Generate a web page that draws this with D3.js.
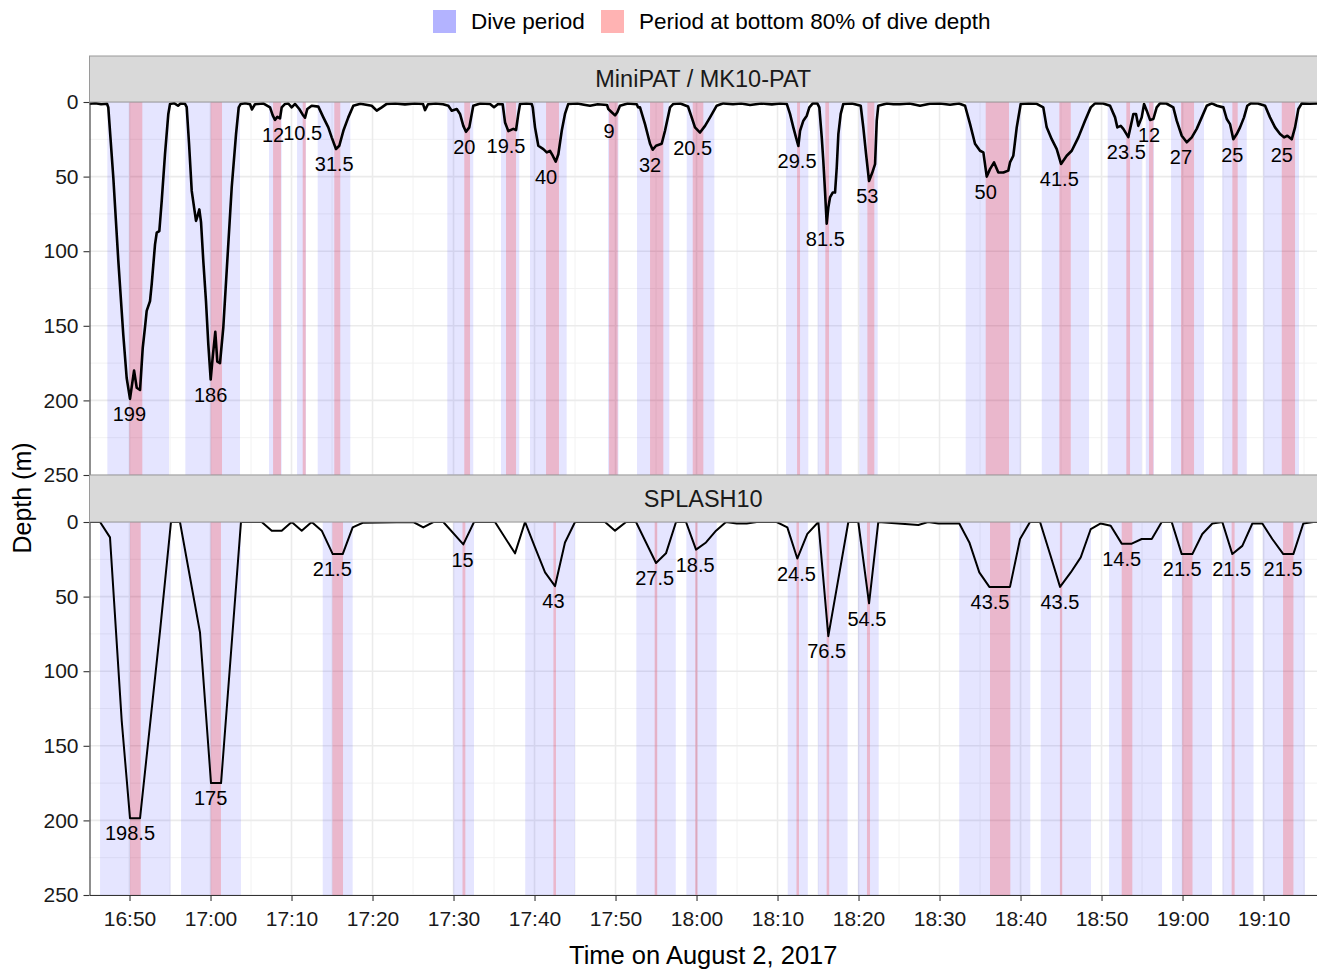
<!DOCTYPE html>
<html><head><meta charset="utf-8">
<script src="https://cdn.jsdelivr.net/npm/d3@7"></script>
<style>
body{margin:0;background:#fff;}
text{font-family:"Liberation Sans",Arial,Helvetica,sans-serif;}
</style>
</head><body>
<svg id="chart" width="1317" height="971"></svg>
<script>
// Times are minutes after 16:00 on August 2, 2017; depths in metres.
const panelNames = ["MiniPAT / MK10-PAT", "SPLASH10"];
const legendLabels = ["Dive period", "Period at bottom 80% of dive depth"];
const depthTicks = [0, 50, 100, 150, 200, 250];

const miniPatSeries = [
[45.06,1.2],[45.8,0.8],[46.5,1.5],[47.22,1.2],[47.38,3.6],[48.00,50.6],[48.62,106.6],[49.23,156],[49.65,185],[50.06,199],[50.56,180],[50.89,191.5],[51.30,193],[51.63,165],[51.91,151],[52.12,140],[52.53,133.5],[52.74,122],[53.15,95.4],[53.36,87.6],[53.68,86.5],[53.98,66],[54.38,35],[54.79,8],[55.00,1.3],[55.5,0.8],[55.99,2.5],[56.3,1],[56.85,1.2],
[57.06,3.4],[57.35,28],[57.68,59.6],[58.21,79.7],[58.37,77],[58.62,72],[58.83,80.6],[59.11,106.6],[59.44,133.5],[59.73,162.6],[60.02,186],[60.27,171],[60.59,154],[60.84,174],[61.17,175],[61.58,151],[62.07,106.6],[62.62,57],[63.15,21.5],[63.48,3.6],[63.73,1.3],[64.3,0.8],[64.88,1.5],[65.12,5],[65.49,1.5],[66.5,1],
[67.35,3.6],[67.68,9],[67.96,12],[68.25,10],[68.58,11],[68.79,3.6],[69.20,1.3],[69.6,1],[70.02,3.6],[70.43,1.3],[70.96,4.7],[71.38,8.5],[71.67,10.5],[71.95,4.7],[72.49,2.5],[73.31,3.1],
[73.93,10.3],[74.54,17],[74.96,23.7],[75.49,31.5],[75.90,29.3],[76.40,19.3],[77.01,10.3],[77.63,2.5],[78.5,1.2],[79.2,1.8],[79.90,2.5],[80.52,5.8],[81.14,3.6],[81.75,1.3],[82.8,1],[84,1.6],[85.2,1],[86.23,1.3],[86.48,5.4],[86.85,1.5],[87.8,1],[88.7,1.5],
[89.36,2.5],[89.78,5.8],[90.40,4.7],[90.80,8],[91.21,16],[91.54,20],[91.95,17],[92.25,8],[92.44,2.5],[93.3,1],[94.51,1.3],[95.0,3.5],[95.5,1.3],
[96.07,1.5],[96.36,13.7],[96.77,19.5],[97.38,18],[97.72,18.8],[98.00,8],[98.21,1.3],[99.0,1],[99.65,1.3],
[99.78,3.6],[100.06,17],[100.47,29.3],[101.09,31.6],[101.51,33.8],[101.91,32.7],[102.25,36],[102.62,40],[102.94,35],[103.36,19.3],[103.76,8],[104.17,1.3],[105.3,1],[106.1,1.8],[106.85,2.5],[107.8,1.5],
[108.95,2],[109.11,4.7],[109.53,6.9],[109.94,9],[110.22,6.9],[110.55,2.5],[111.5,1],[112.62,1.5],
[112.78,3.6],[113.02,3.6],[113.64,14.8],[114.26,28],[114.59,32],[115.00,29.3],[115.70,28],[116.11,19.3],[116.73,3.6],[117.14,1.3],[118.0,1],
[118.95,3],[119.32,9],[119.81,17],[120.43,20.5],[121.05,16],[121.67,10.3],[122.49,2.5],[123.31,0.9],[124.5,1.5],[125.5,1],[126.61,2],[128,1],[129.3,1.6],[130.3,1],
[131.14,1.3],[131.54,8],[131.95,17],[132.28,23.7],[132.57,29.5],[132.78,19.3],[133.19,12.5],[133.61,9.2],[133.93,3.6],[134.35,0.9],[134.91,0.9],
[135.16,3.6],[135.46,23.7],[135.65,39.4],[135.86,59.6],[136.07,81.5],[136.27,70.8],[136.48,64],[136.81,60.7],[137.10,60.7],[137.31,43.9],[137.51,21.5],[137.80,8],[138.12,1.3],[139.2,1],
[140.27,2.5],[140.59,17],[140.93,35],[141.30,53],[141.70,47.3],[142.04,41.7],[142.25,12.5],[142.44,2.5],[143.5,1],[144.3,1.5],[145.12,1.5],[146.3,1],[147.59,2.5],[148.8,1.2],[150.06,1],[151.3,1.8],[152.4,1],
[153.15,2.5],[153.77,14.8],[154.38,28],[155.00,32.7],[155.41,33.8],[155.83,50],[156.23,45],[156.73,40.5],[157.26,47.3],[157.88,47.3],[158.49,46],[158.70,40.5],[159.11,36],[159.53,17],[160.02,1.3],[161,1],[162,1.2],
[162.81,3.6],[163.23,17],[163.85,24.9],[164.47,31.6],[165.00,41.5],[165.70,36],[166.32,32.7],[167.14,23.7],[167.96,12.5],[168.67,3.6],[169.20,0.9],[170.2,1],
[171.05,2.5],[171.67,10.3],[171.95,17],[172.37,16],[172.69,18],[173.31,23.5],[173.61,16],[173.93,8],[174.26,8],[174.54,16],[174.96,10.3],[175.25,1.3],[175.58,5.8],[175.99,12],[176.40,11.4],[176.81,3.6],[177.22,0.9],[178.0,1],
[178.86,3.6],[179.28,12.5],[179.90,22.6],[180.52,27],[181.14,23.7],[181.75,18],[182.37,10.3],[182.99,2.5],[183.61,0.9],[184.26,2.5],
[185.04,3.6],[185.46,11.4],[185.86,14.8],[186.27,25],[186.69,21.5],[187.10,17],[187.59,10.3],[188.00,2.5],[188.42,0.9],[189.3,1],
[190.19,2.5],[190.80,10.3],[191.42,17],[192.04,21.5],[192.53,23.7],[192.94,22.6],[193.48,25],[193.89,17],[194.30,4.7],[194.72,0.9],[195.7,1.2],[196.60,1]
];
const miniDiveStart   = [47.26,56.89,67.22,70.68,73.23,89.23,95.86,99.44,109.07,112.65,118.79,131.05,134.96,140.10,153.23,162.62,170.76,175.46,178.58,184.91,189.97];
const miniDiveEnd     = [54.88,63.64,68.79,71.79,77.26,92.44,98.12,103.97,110.37,116.64,122.20,133.80,137.93,142.37,160.02,168.46,174.96,176.48,182.65,187.93,194.38];
const miniBottomStart = [49.98,60.02,67.72,71.38,75.28,91.33,96.48,101.42,109.20,114.26,119.53,132.41,135.90,141.09,155.70,164.79,173.06,175.86,179.81,186.15,192.25];
const miniBottomEnd   = [51.58,61.42,68.70,71.75,76.02,92.04,97.72,103.02,110.27,115.90,120.84,132.78,136.36,141.95,158.58,166.20,173.52,176.39,181.42,186.81,193.89];
const miniMaxDepth    = [199,186,12,10.5,31.5,20,19.5,40,9,32,20.5,29.5,81.5,53,50,41.5,23.5,12,27,25,25];

const splashSeries = [
[45.06,0],[46.36,0],[47.59,10.3],[49.04,133.5],[50.06,198.5],[51.30,198.5],[53.77,73],[55.12,0],[56.23,0],[58.70,74],[60.06,175],[61.30,175],[63.76,0],
[66.32,0],[67.56,5.8],[68.79,5.8],[70.02,0],[71.26,5.8],[72.49,0],[73.73,5.8],[75.09,21.5],[76.32,21.5],[77.55,3.6],[78.79,0.5],
[85.04,0],[86.27,3.6],[87.51,0],[88.74,0],[91.21,15],[92.53,0],[95.12,0],[97.59,21],[98.83,0],[100.06,17],[101.30,33.8],[102.53,43],[103.76,13.7],[105.00,0],
[108.70,0],[109.94,5.8],[111.30,0],[112.53,0],[115.00,27.5],[116.23,21],[117.47,0],[118.70,0],[119.94,18.5],[121.17,13.7],[122.41,5.8],[123.64,0],[124.96,1],[126.20,1],[127.43,0],
[129.90,0],[131.21,3.6],[132.44,24.5],[133.68,8],[135.04,0],[136.27,76.5],[138.74,0],[139.97,0],[141.30,54.5],[142.44,0],[147.38,2],[148.58,0],[149.85,1],
[152.44,1],[153.68,13.7],[154.91,33.8],[156.15,43.5],[158.70,43.5],[159.94,11.4],[161.17,0],[162.41,0],[163.64,21.5],[164.88,43.5],[166.20,33.8],[167.43,23.7],[168.67,4.7],[169.90,1],
[171.13,2.5],[172.49,14.5],[173.73,14.5],[174.96,11.4],[176.20,11.4],[177.43,0],[178.66,0],[179.90,21.5],[181.21,21.5],[182.44,8],[183.68,1],[184.91,0],
[186.15,21.5],[187.38,16],[188.62,1],[189.85,1],[191.08,11.4],[192.44,21.5],[193.68,21.5],[194.91,1],[196.15,0],[197.6,0]
];
const splashDiveStart   = [46.36,56.36,73.85,89.97,98.85,112.57,118.74,131.26,134.99,139.94,152.43,162.49,170.93,178.70,184.93,189.90];
const splashDiveEnd     = [55.06,63.76,77.55,92.53,105.00,117.44,122.49,133.74,138.65,142.49,161.21,168.70,177.47,183.64,188.76,195.10];
const splashBottomStart = [50.06,60.02,75.04,91.11,102.33,114.83,119.84,132.34,136.06,141.04,156.23,164.86,172.49,179.97,186.06,192.41];
const splashBottomEnd   = [51.38,61.29,76.36,91.46,102.65,115.15,120.12,132.65,136.38,141.42,158.74,165.15,173.80,181.23,186.43,193.69];
const splashMaxDepth    = [198.5,175,21.5,15,43,27.5,18.5,24.5,76.5,54.5,43.5,43.5,14.5,21.5,21.5,21.5];

const panels = [
  {name: panelNames[0], series: miniPatSeries, ds: miniDiveStart, de: miniDiveEnd, bs: miniBottomStart, be: miniBottomEnd, md: miniMaxDepth, stripTop: 56, top: 102, bottom: 475, lw: 2.6},
  {name: panelNames[1], series: splashSeries, ds: splashDiveStart, de: splashDiveEnd, bs: splashBottomStart, be: splashBottomEnd, md: splashMaxDepth, stripTop: 475, top: 522, bottom: 895, lw: 2.0}
];

const toDate = m => new Date(Date.UTC(2017, 7, 2, 16, 0) + m * 60000);
const left = 89.5, right = 1317;
const x = d3.scaleUtc().domain([toDate(45.06), toDate(196.6)]).range([left, right]);
const svg = d3.select("#chart");
const fmt = d3.utcFormat("%H:%M");

panels.forEach((p, i) => {
  const y = d3.scaleLinear().domain([0, 250]).range([p.top, p.bottom]);
  const g = svg.append("g");
  const clipId = "clip" + i;
  svg.append("clipPath").attr("id", clipId).append("rect")
    .attr("x", left).attr("y", p.top).attr("width", right - left).attr("height", p.bottom - p.top);

  // grid
  const minorX = x.ticks(d3.utcMinute.every(5)).filter(d => d.getUTCMinutes() % 10 === 5);
  const majorX = x.ticks(d3.utcMinute.every(10));
  const grid = g.append("g");
  grid.selectAll(".mx").data(minorX).join("line")
    .attr("x1", d => x(d)).attr("x2", d => x(d)).attr("y1", p.top).attr("y2", p.bottom)
    .attr("stroke", "#F2F2F2").attr("stroke-width", 1);
  grid.selectAll(".my").data([25, 75, 125, 175, 225]).join("line")
    .attr("x1", left).attr("x2", right).attr("y1", d => y(d)).attr("y2", d => y(d))
    .attr("stroke", "#F2F2F2").attr("stroke-width", 1);
  grid.selectAll(".Mx").data(majorX).join("line")
    .attr("x1", d => x(d)).attr("x2", d => x(d)).attr("y1", p.top).attr("y2", p.bottom)
    .attr("stroke", "#EBEBEB").attr("stroke-width", 1.6);
  grid.selectAll(".My").data(depthTicks).join("line")
    .attr("x1", left).attr("x2", right).attr("y1", d => y(d)).attr("y2", d => y(d))
    .attr("stroke", "#EBEBEB").attr("stroke-width", 1.6);

  const plot = g.append("g").attr("clip-path", `url(#${clipId})`);
  const idx = d3.range(p.ds.length);
  plot.selectAll(".dive").data(idx).join("rect")
    .attr("x", k => x(toDate(p.ds[k]))).attr("width", k => x(toDate(p.de[k])) - x(toDate(p.ds[k])))
    .attr("y", p.top).attr("height", p.bottom - p.top)
    .attr("fill", "blue").attr("fill-opacity", 0.1);
  plot.selectAll(".bot").data(idx).join("rect")
    .attr("x", k => x(toDate(p.bs[k]))).attr("width", k => x(toDate(p.be[k])) - x(toDate(p.bs[k])))
    .attr("y", p.top).attr("height", p.bottom - p.top)
    .attr("fill", "red").attr("fill-opacity", 0.2);

  const line = d3.line().x(d => x(toDate(d[0]))).y(d => y(d[1]));
  plot.append("path").datum(p.series).attr("d", line)
    .attr("fill", "none").attr("stroke", "#000").attr("stroke-width", p.lw).attr("stroke-linejoin", "round");

  plot.selectAll(".lab").data(idx).join("text")
    .attr("x", k => x(toDate(p.bs[k]))).attr("y", k => y(p.md[k]) + 15)
    .attr("dy", "0.36em").attr("text-anchor", "middle")
    .attr("font-size", 20).attr("fill", "#000").text(k => p.md[k]);

  // y axis
  const ya = g.append("g").attr("transform", `translate(${left},0)`)
    .call(d3.axisLeft(y).tickValues(depthTicks).tickSize(6).tickPadding(5).tickSizeOuter(0));
  ya.select(".domain").attr("stroke", "#333").attr("stroke-width", 1.1);
  ya.selectAll(".tick line").attr("stroke", "#333").attr("stroke-width", 1.1);
  ya.selectAll(".tick text").attr("font-size", 21).attr("fill", "#1a1a1a")
    .attr("font-family", '"Liberation Sans",Arial,sans-serif');

  // strip
  svg.append("rect").attr("x", left).attr("y", p.stripTop).attr("width", right - left + 2)
    .attr("height", p.top - p.stripTop).attr("fill", "#D9D9D9").attr("stroke", "#9a9a9a").attr("stroke-width", 1);
  svg.append("text").attr("x", (left + right) / 2).attr("y", (p.stripTop + p.top) / 2)
    .attr("dy", "0.36em").attr("text-anchor", "middle").attr("font-size", 23.5)
    .attr("fill", "#1a1a1a").text(p.name);

  if (i === 1) {
    const xa = g.append("g").attr("transform", `translate(0,${p.bottom})`)
      .call(d3.axisBottom(x).ticks(d3.utcMinute.every(10)).tickFormat(fmt).tickSize(6).tickPadding(10).tickSizeOuter(0));
    xa.select(".domain").attr("stroke", "#333").attr("stroke-width", 1.1);
    xa.selectAll(".tick line").attr("stroke", "#333").attr("stroke-width", 1.1);
    xa.selectAll(".tick text").attr("font-size", 21).attr("fill", "#1a1a1a")
      .attr("font-family", '"Liberation Sans",Arial,sans-serif');
  }
});

// axis titles
svg.append("text").attr("x", (left + right) / 2).attr("y", 964).attr("text-anchor", "middle")
  .attr("font-size", 25.5).attr("fill", "#000").text("Time on August 2, 2017");
svg.append("text").attr("transform", "translate(31,498) rotate(-90)").attr("text-anchor", "middle")
  .attr("font-size", 25).attr("fill", "#000").text("Depth (m)");

// legend
const legendColors = ["#B3B3FF", "#FFB3B3"];
const legendX = [433, 601];
legendLabels.forEach((t, k) => {
  svg.append("rect").attr("x", legendX[k]).attr("y", 10).attr("width", 23).attr("height", 23).attr("fill", legendColors[k]);
  svg.append("text").attr("x", legendX[k] + 38).attr("y", 29).attr("font-size", 22.5).attr("fill", "#000").text(t);
});
</script>
</body></html>
